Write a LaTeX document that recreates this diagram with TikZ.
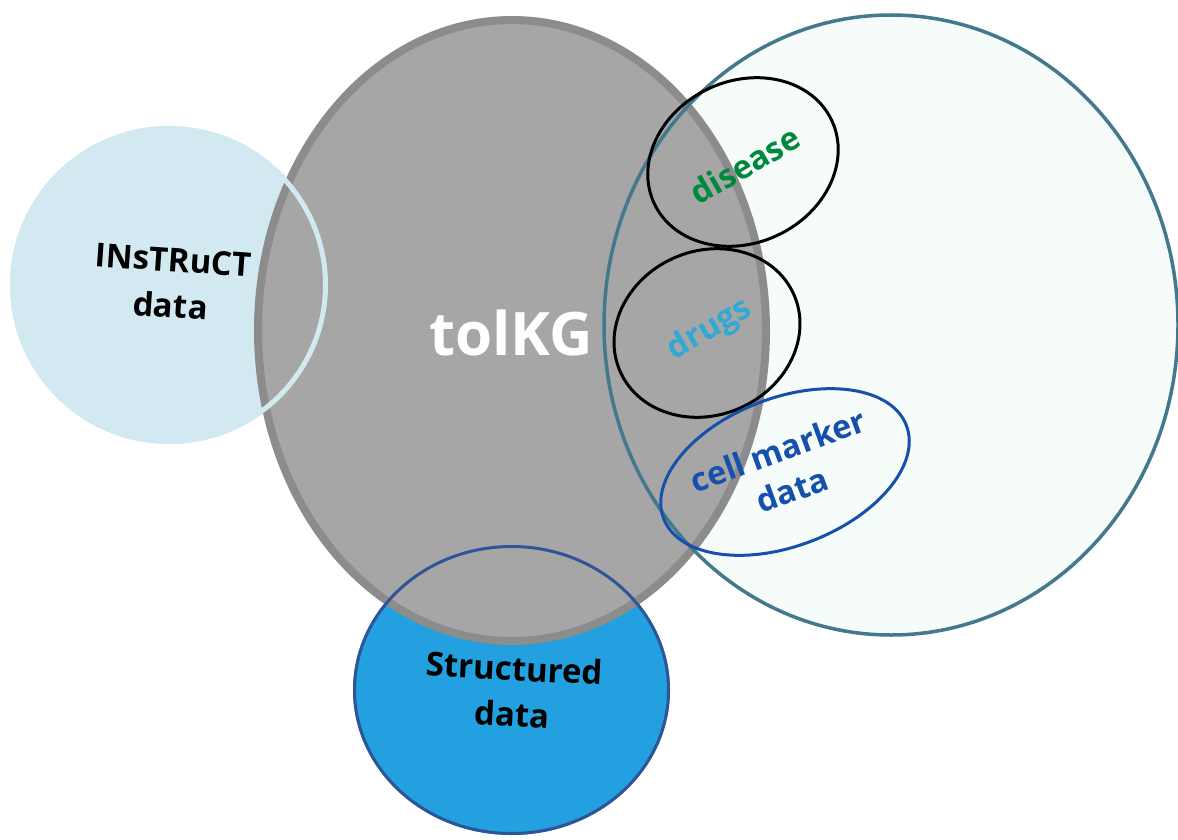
\documentclass[tikz,border=0pt]{standalone}
\usepackage{fontspec}
\setmainfont{Open Sans}
\definecolor{kggray}{HTML}{A5A6A5}
\definecolor{kgedge}{HTML}{8C8C8C}
\definecolor{instfill}{HTML}{D2E9F1}
\definecolor{mintfill}{HTML}{F6FCF9}
\definecolor{mintedge}{HTML}{44788C}
\definecolor{structfill}{HTML}{22A0E0}
\definecolor{structedge}{HTML}{2F5597}
\definecolor{diseasegreen}{HTML}{00883D}
\definecolor{drugsblue}{HTML}{33A8D4}
\definecolor{cellblue}{HTML}{1550AC}
\tikzset{
  lbl/.style={font=\bfseries\fontsize{33}{46}\selectfont, align=center, inner sep=0pt},
  sublbl/.style={font=\bfseries\fontsize{32.5}{42}\selectfont, align=center, inner sep=0pt},
  subset/.style={line width=3pt}
}
\begin{document}
\begin{tikzpicture}[x=1pt,y=-1pt]
\useasboundingbox (0,0) rectangle (1178,840);
% fills of the outer sets, underneath the knowledge graph
\fill[instfill] (169,285) circle [radius=159];
\fill[mintfill] (891,325) ellipse [x radius=289, y radius=312];
\fill[structfill] (511.5,690) ellipse [x radius=158.5, y radius=145];
% the knowledge graph itself
\filldraw[fill=kggray, draw=kgedge, line width=8pt] (512,330.5) ellipse [x radius=254, y radius=310.5];
% outlines of the outer sets, on top
\draw[instfill, line width=5pt] (169,285) circle [radius=156.5];
\draw[mintedge, line width=3.5pt] (891,325) ellipse [x radius=287, y radius=310];
\draw[structedge, line width=3pt] (511.5,690) ellipse [x radius=157, y radius=143.5];
% subsets inside the right-hand set
\draw[subset, black, rotate around={25:(743,162)}] (743,162) ellipse [x radius=98, y radius=81];
\draw[subset, black, rotate around={24:(707,333)}] (707,333) ellipse [x radius=95, y radius=82];
\draw[subset, cellblue, rotate around={21:(785,472)}] (785,472) ellipse [x radius=130, y radius=74];
% labels
\node[lbl, rotate=-4] (inst) at (172,283) {INsTRuCT\\data};
\node[font=\bfseries\fontsize{60}{64}\selectfont, text=white, inner sep=0pt] (kg) at (511,333) {tolKG};
\node[lbl, rotate=-3] (struct) at (513,691) {Structured\\data};
\node[sublbl, text=diseasegreen, rotate=30] (dis) at (745,165) {disease};
\node[sublbl, text=drugsblue, rotate=30] (drg) at (710,330) {drugs};
\node[sublbl, text=cellblue, rotate=20] (cell) at (785,470) {cell marker\\data};
\end{tikzpicture}
\end{document}
